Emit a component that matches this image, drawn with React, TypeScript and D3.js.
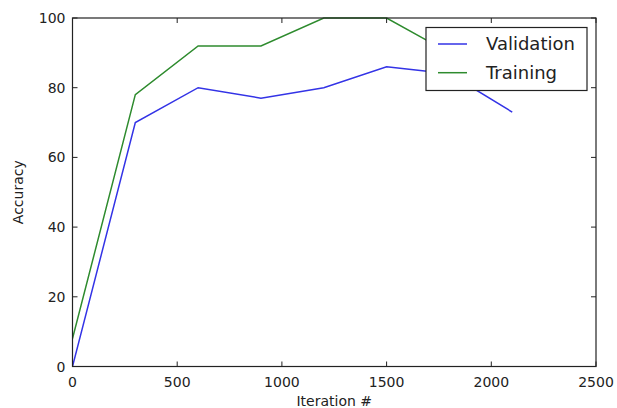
import * as d3 from "d3";

// values
const iterations = [0, 300, 600, 900, 1200, 1500, 1800, 2100];
const validation = [0, 70, 80, 77, 80, 86, 84, 73];
const training = [8, 78, 92, 92, 100, 100, 90, 88];
const xTicks = [0, 500, 1000, 1500, 2000, 2500];
const yTicks = [0, 20, 40, 60, 80, 100];
const legendItems = [
  { name: "Validation", color: "#3333e6" },
  { name: "Training", color: "#2e8b2e" },
];

const W = 617;
const H = 408;
const margin = { left: 72.5, right: 21, top: 18, bottom: 41.5 };

export default function App() {
  const x = d3
    .scaleLinear()
    .domain([0, 2500])
    .range([margin.left, W - margin.right]);
  const y = d3
    .scaleLinear()
    .domain([0, 100])
    .range([H - margin.bottom, margin.top]);

  const line = d3
    .line<number>()
    .x((_, i) => x(iterations[i]))
    .y((d) => y(d));

  const font = "'DejaVu Sans', sans-serif";
  const ink = "#222";
  const tickLen = 5;
  const x0 = margin.left;
  const x1 = W - margin.right;
  const y0 = H - margin.bottom;
  const y1 = margin.top;

  // legend box
  const lg = { x: 426, y: 27.5, w: 161, h: 63 };

  return (
    <svg
      width={W}
      height={H}
      style={{ position: "absolute", left: 0, top: 0, background: "#fff" }}
    >
      <defs>
        <clipPath id="plot">
          <rect x={x0} y={y1 - 1} width={x1 - x0} height={y0 - y1 + 2} />
        </clipPath>
      </defs>

      <g clipPath="url(#plot)">
        <path d={line(validation) || ""} fill="none" stroke={legendItems[0].color} strokeWidth={1.5} />
        <path d={line(training) || ""} fill="none" stroke={legendItems[1].color} strokeWidth={1.5} />
      </g>

      {/* ticks, inward on all sides */}
      {xTicks.map((t) => (
        <g key={"x" + t}>
          <line x1={x(t)} x2={x(t)} y1={y0} y2={y0 - tickLen} stroke={ink} />
          <line x1={x(t)} x2={x(t)} y1={y1} y2={y1 + tickLen} stroke={ink} />
          <text
            x={x(t)}
            y={y0 + 20}
            textAnchor="middle"
            fontFamily={font}
            fontSize={14}
            fill={ink}
          >
            {t}
          </text>
        </g>
      ))}
      {yTicks.map((t) => (
        <g key={"y" + t}>
          <line x1={x0} x2={x0 + tickLen} y1={y(t)} y2={y(t)} stroke={ink} />
          <line x1={x1} x2={x1 - tickLen} y1={y(t)} y2={y(t)} stroke={ink} />
          <text
            x={x0 - 7}
            y={y(t)}
            dy="0.36em"
            textAnchor="end"
            fontFamily={font}
            fontSize={14}
            fill={ink}
          >
            {t}
          </text>
        </g>
      ))}

      <rect x={x0} y={y1} width={x1 - x0} height={y0 - y1} fill="none" stroke={ink} strokeWidth={1.2} />

      <text
        x={(x0 + x1) / 2}
        y={H - 2}
        textAnchor="middle"
        fontFamily={font}
        fontSize={14}
        fill={ink}
      >
        Iteration #
      </text>
      <text
        transform={`translate(23,${(y0 + y1) / 2}) rotate(-90)`}
        textAnchor="middle"
        fontFamily={font}
        fontSize={14}
        fill={ink}
      >
        Accuracy
      </text>

      {/* legend */}
      <rect x={lg.x} y={lg.y} width={lg.w} height={lg.h} fill="#fff" stroke={ink} strokeWidth={1.2} />
      {legendItems.map((it, i) => {
        const ly = 44 + i * 28.7;
        return (
          <g key={it.name}>
            <line x1={438} x2={467} y1={ly} y2={ly} stroke={it.color} strokeWidth={1.5} />
            <text
              x={486}
              y={ly}
              dy="0.36em"
              fontFamily={font}
              fontSize={18}
              fill={ink}
            >
              {it.name}
            </text>
          </g>
        );
      })}
    </svg>
  );
}
